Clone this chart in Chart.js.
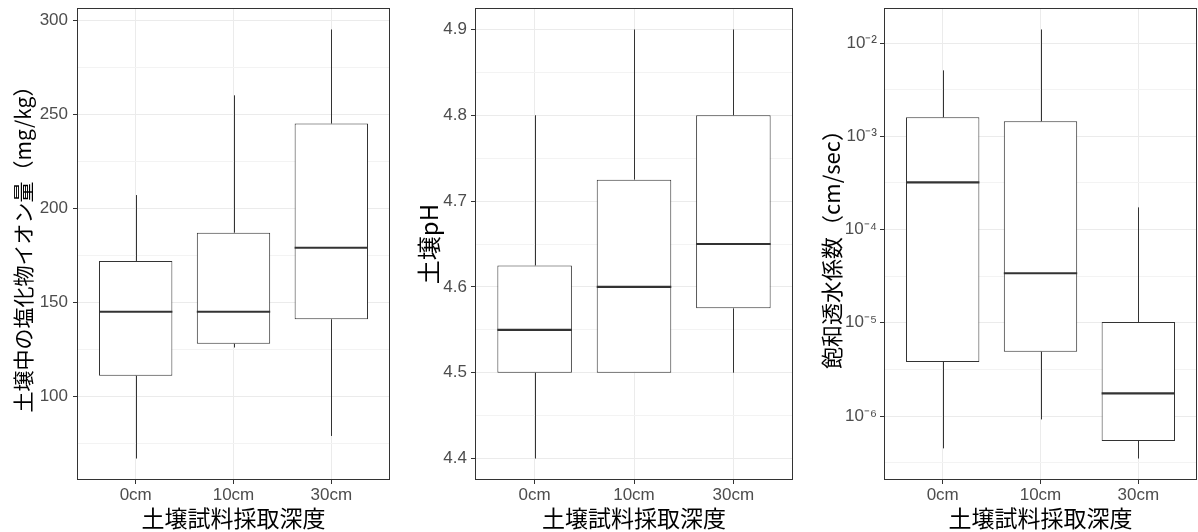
<!DOCTYPE html>
<html>
<head>
<meta charset="utf-8">
<script src="https://cdn.jsdelivr.net/npm/chart.js@4.4.1/dist/chart.umd.min.js"></script>
<style>
  body { margin: 0; background: #fff; }
  canvas { position: absolute; top: 0; }
</style>
</head>
<body>
<canvas id="chloride" width="400" height="532" style="left:0"></canvas>
<canvas id="ph" width="400" height="532" style="left:400px"></canvas>
<canvas id="conductivity" width="398" height="532" style="left:800px"></canvas>
<script>
const depths = ['0cm', '10cm', '30cm'];

// 土壌中の塩化物イオン量 (mg/kg)
const chlorideLow = [67, 126, 79];
const chlorideQ1 = [111, 128, 141];
const chlorideMedian = [145, 145, 179];
const chlorideQ3 = [172, 187, 245];
const chlorideHigh = [207, 260, 295];
const chlorideTicks = [100, 150, 200, 250, 300];
const chlorideTickLabels = ['100', '150', '200', '250', '300'];
const chlorideMinorTicks = [75, 125, 175, 225, 275];

// 土壌pH
const phLow = [4.4, 4.5, 4.5];
const phQ1 = [4.5, 4.5, 4.575];
const phMedian = [4.55, 4.6, 4.65];
const phQ3 = [4.625, 4.725, 4.8];
const phHigh = [4.8, 4.9, 4.9];
const phTicks = [4.4, 4.5, 4.6, 4.7, 4.8, 4.9];
const phTickLabels = ['4.4', '4.5', '4.6', '4.7', '4.8', '4.9'];
const phMinorTicks = [4.45, 4.55, 4.65, 4.75, 4.85];

// 飽和透水係数 (cm/sec)
const condLow = [4.5e-7, 9.2e-7, 3.5e-7];
const condQ1 = [3.8e-6, 4.9e-6, 5.4e-7];
const condMedian = [3.2e-4, 3.4e-5, 1.75e-6];
const condQ3 = [1.6e-3, 1.45e-3, 1.02e-5];
const condHigh = [5.1e-3, 1.4e-2, 1.73e-4];
const condTicks = [1e-6, 1e-5, 1e-4, 1e-3, 1e-2];
const condTickLabels = ['10⁻⁶', '10⁻⁵', '10⁻⁴', '10⁻³', '10⁻²'];
const condMinorTicks = [3.162e-7, 3.162e-6, 3.162e-5, 3.162e-4, 3.162e-3];

const TICK_FONT = '"Liberation Sans", Arial, sans-serif';
const TITLE_FONT = '"Noto Sans CJK JP", "Noto Sans", sans-serif';

// whiskers behind the boxes, medians and panel frame on top
const boxPlot = {
  id: 'boxPlot',
  beforeDatasetsDraw(chart, args, opts) {
    const ctx = chart.ctx, y = chart.scales.y;
    const bars = chart.getDatasetMeta(0).data;
    ctx.save();
    ctx.strokeStyle = '#333';
    ctx.lineWidth = 1;
    bars.forEach((bar, i) => {
      const x = Math.round(bar.x) + 0.5;
      ctx.beginPath();
      ctx.moveTo(x, y.getPixelForValue(opts.low[i]));
      ctx.lineTo(x, y.getPixelForValue(opts.q1[i]));
      ctx.moveTo(x, y.getPixelForValue(opts.q3[i]));
      ctx.lineTo(x, y.getPixelForValue(opts.high[i]));
      ctx.stroke();
    });
    ctx.restore();
  },
  afterDatasetsDraw(chart, args, opts) {
    const ctx = chart.ctx, y = chart.scales.y, area = chart.chartArea;
    const bars = chart.getDatasetMeta(0).data;
    ctx.save();
    ctx.strokeStyle = '#333';
    ctx.lineWidth = 2.2;
    bars.forEach((bar, i) => {
      const py = y.getPixelForValue(opts.median[i]);
      ctx.beginPath();
      ctx.moveTo(bar.x - bar.width / 2, py);
      ctx.lineTo(bar.x + bar.width / 2, py);
      ctx.stroke();
    });
    ctx.lineWidth = 1;
    ctx.strokeRect(area.left + 0.5, area.top + 0.5, area.width - 1, area.height - 1);
    ctx.restore();
  }
};

function tickList(major, labels, minor) {
  const list = major.map((v, i) => ({ value: v, text: labels[i] }))
    .concat(minor.map(v => ({ value: v, text: '' })));
  return list.sort((a, b) => a.value - b.value);
}

function noPadding(s) {
  s.paddingTop = 0; s.paddingBottom = 0; s.paddingLeft = 0; s.paddingRight = 0;
}

function makePanel(id, p) {
  let yMin, yMax;
  const lo = Math.min(...p.low), hi = Math.max(...p.high);
  if (p.log) {
    const a = Math.log10(lo), b = Math.log10(hi), e = (b - a) * 0.05;
    yMin = Math.pow(10, a - e); yMax = Math.pow(10, b + e);
  } else {
    const e = (hi - lo) * 0.05;
    yMin = lo - e; yMax = hi + e;
  }
  const yTicks = tickList(p.ticks, p.tickLabels, p.minorTicks);

  new Chart(document.getElementById(id), {
    type: 'bar',
    data: {
      datasets: [{
        data: depths.map((d, i) => ({ x: i + 1, y: [p.q1[i], p.q3[i]] })),
        backgroundColor: '#fff',
        borderColor: '#333',
        borderWidth: 1,
        borderSkipped: false,
        barPercentage: 0.75,
        categoryPercentage: 1
      }]
    },
    options: {
      responsive: false,
      animation: false,
      layout: { padding: { top: 8, right: p.rightPad, left: 0, bottom: 0 } },
      plugins: {
        legend: { display: false },
        tooltip: { enabled: false },
        boxPlot: { low: p.low, q1: p.q1, median: p.median, q3: p.q3, high: p.high }
      },
      scales: {
        x: {
          type: 'linear',
          min: 0.4,
          max: 3.6,
          bounds: 'data',
          offset: false,
          afterBuildTicks: s => { s.ticks = depths.map((d, i) => ({ value: i + 1, text: d })); },
          afterFit: s => { s.height = 52; noPadding(s); },
          grid: { offset: false, color: '#ebebeb', tickColor: '#333', tickLength: 4 },
          border: { display: false },
          ticks: {
            callback: (v, i, t) => t[i].text,
            font: { family: TICK_FONT, size: 17 },
            color: '#4d4d4d',
            padding: 1,
            maxRotation: 0,
            autoSkip: false
          },
          title: {
            display: true,
            text: '土壌試料採取深度',
            font: { family: TITLE_FONT, size: 23 },
            color: '#000',
            padding: { top: 0, bottom: 0 }
          }
        },
        y: {
          type: p.log ? 'logarithmic' : 'linear',
          min: yMin,
          max: yMax,
          bounds: 'data',
          afterBuildTicks: s => { s.ticks = yTicks.map(t => ({ value: t.value, text: t.text })); },
          afterFit: s => { s.width = p.axisWidth; noPadding(s); },
          grid: {
            color: c => (c.tick && c.tick.text) ? '#ebebeb' : '#f3f3f3',
            tickColor: c => (c.tick && c.tick.text) ? '#333' : 'rgba(0,0,0,0)',
            tickLength: 4
          },
          border: { display: false },
          ticks: {
            callback: (v, i, t) => t[i].text,
            font: { family: TICK_FONT, size: 17 },
            color: '#4d4d4d',
            padding: p.labelPad,
            autoSkip: false
          },
          title: {
            display: true,
            text: p.title,
            font: { family: TITLE_FONT, size: p.titleSize },
            color: '#000',
            padding: { top: p.titlePad, bottom: 0 }
          }
        }
      }
    },
    plugins: [boxPlot]
  });
}

makePanel('chloride', {
  low: chlorideLow, q1: chlorideQ1, median: chlorideMedian, q3: chlorideQ3, high: chlorideHigh,
  ticks: chlorideTicks, tickLabels: chlorideTickLabels, minorTicks: chlorideMinorTicks,
  title: '土壌中の塩化物イオン量（mg/kg）',
  titleSize: 21, axisWidth: 77, labelPad: 5, titlePad: 10, rightPad: 10
});

makePanel('ph', {
  low: phLow, q1: phQ1, median: phMedian, q3: phQ3, high: phHigh,
  ticks: phTicks, tickLabels: phTickLabels, minorTicks: phMinorTicks,
  title: '土壌pH',
  titleSize: 24, axisWidth: 75, labelPad: 4, titlePad: 14, rightPad: 7
});

makePanel('conductivity', {
  low: condLow, q1: condQ1, median: condMedian, q3: condQ3, high: condHigh,
  ticks: condTicks, tickLabels: condTickLabels, minorTicks: condMinorTicks,
  title: '飽和透水係数（cm/sec）',
  titleSize: 22, axisWidth: 84, labelPad: 3, titlePad: 18, rightPad: 1,
  log: true
});
</script>
</body>
</html>
